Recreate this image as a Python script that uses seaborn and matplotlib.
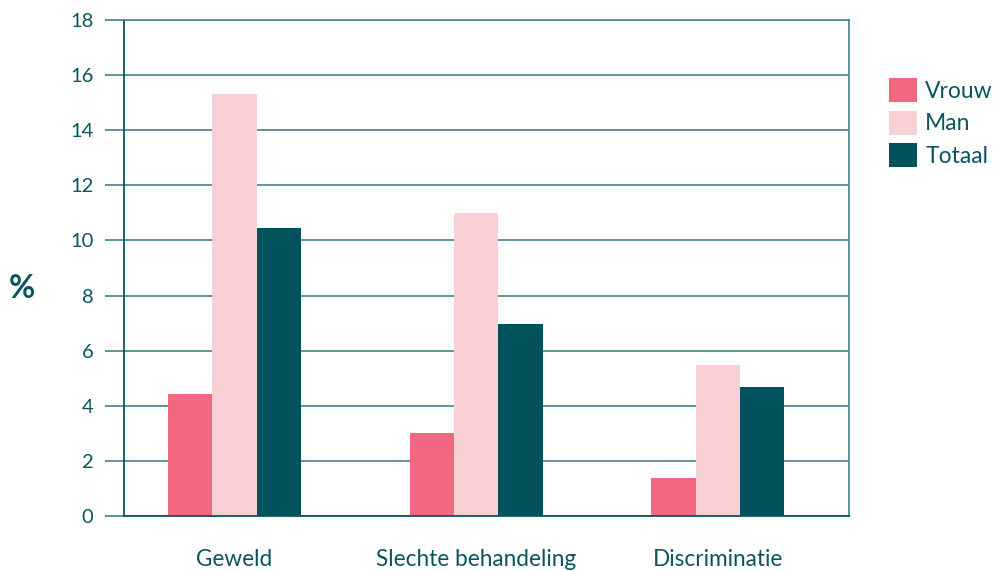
import matplotlib
matplotlib.use("Agg")
import matplotlib.pyplot as plt
import seaborn as sns
import pandas as pd
from matplotlib.patches import Patch

categories = ["Geweld", "Slechte behandeling", "Discriminatie"]
series = ["Vrouw", "Man", "Totaal"]
vrouw = [4.43, 3.01, 1.38]
man = [15.32, 11.0, 5.48]
totaal = [10.45, 6.97, 4.68]
yticks = [0, 2, 4, 6, 8, 10, 12, 14, 16, 18]

colors = {"Vrouw": "#f26883", "Man": "#f8cfd2", "Totaal": "#02525e"}
text_color = "#0b5560"
grid_color = "#4f8c93"

rows = []
for i, c in enumerate(categories):
    rows.append({"cat": c, "serie": "Vrouw", "val": vrouw[i]})
    rows.append({"cat": c, "serie": "Man", "val": man[i]})
    rows.append({"cat": c, "serie": "Totaal", "val": totaal[i]})
df = pd.DataFrame(rows)

sns.set_theme(style="white")
plt.rcParams["font.family"] = ["Lato", "DejaVu Sans"]

fig = plt.figure(figsize=(9.93, 5.71), dpi=100)
ax = fig.add_axes([124/993, 1 - 516/571, (849-124)/993, (516-20)/571])

sns.barplot(data=df, x="cat", y="val", hue="serie", order=categories,
            hue_order=series, palette=colors, width=0.55, gap=0,
            saturation=1, ax=ax, legend=False, errorbar=None, linewidth=0)

ax.set_xlim(-0.457, 2.543)
ax.set_ylim(0, 18)
ax.set_yticks(yticks)
ax.set_yticklabels([str(t) for t in yticks], fontsize=14.5, color=text_color)
ax.yaxis.grid(True, color=grid_color, linewidth=1.3)
ax.set_axisbelow(True)
ax.tick_params(axis="y", length=14, width=1.3, color=grid_color, pad=8, left=True)
ax.tick_params(axis="x", length=0, pad=23.5, labelsize=16.3, labelcolor=text_color)
ax.set_xlabel("")
ax.set_ylabel("")
for s in ["left", "right", "bottom", "top"]:
    ax.spines[s].set_color(grid_color)
    ax.spines[s].set_linewidth(1.3)
    ax.spines[s].set_visible(True)
ax.spines["left"].set_color(text_color)
ax.spines["bottom"].set_color(text_color)

fig.text(9/993, 1 - 288/571, "%", fontsize=23, fontweight="bold",
         color=text_color, ha="left", va="center")

handles = [Patch(facecolor=colors[s], edgecolor="none", label=s) for s in series]
leg = fig.legend(handles=handles, loc="upper left",
                 bbox_to_anchor=(889/993, 1 - 78/571), frameon=False,
                 fontsize=16.5, handlelength=1.23, handleheight=1.23,
                 labelspacing=0.38, handletextpad=0.35, borderaxespad=0,
                 borderpad=0)
for t in leg.get_texts():
    t.set_color(text_color)

fig.savefig("out.png", dpi=100)
